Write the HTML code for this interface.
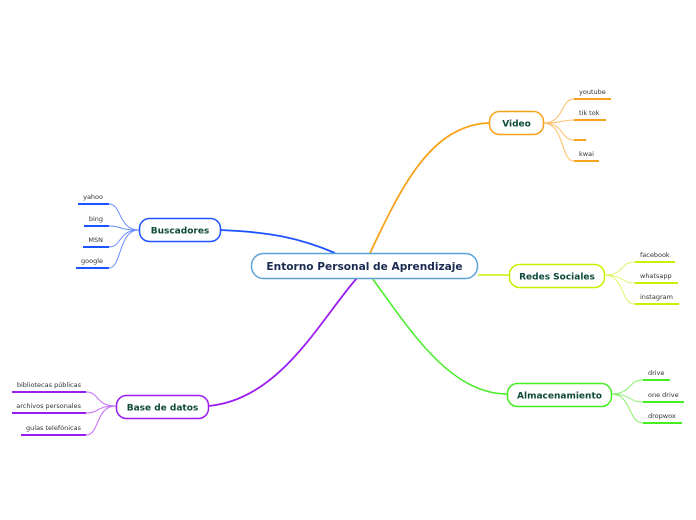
<!DOCTYPE html>
<html><head><meta charset="utf-8"><style>
html,body{margin:0;padding:0;background:#fff;width:696px;height:520px;overflow:hidden}
svg{display:block}
text{font-family:"DejaVu Sans","Liberation Sans",sans-serif}
.n{font-weight:bold;font-size:9px;fill:#0d4a3a}
.l{font-size:6.5px;fill:#333}
</style></head><body>
<svg width="696" height="520" viewBox="0 0 696 520" fill="none">
<path d="M370 253 C400 190,430 125,489 123" stroke="#f7a21b" stroke-width="1.8"/>
<path d="M220 230 C270 232,300 238,335 253" stroke="#1a53ff" stroke-width="1.8"/>
<path d="M208 406 C280 400,320 320,357 278" stroke="#9b1bf0" stroke-width="1.8"/>
<path d="M478 275 C490 275,500 275,509 275" stroke="#c8f000" stroke-width="1.5"/>
<path d="M372 278 C410 330,450 394,507 394" stroke="#44ee22" stroke-width="1.5"/>
<g stroke="#ffbe6a" stroke-width="1">
<path d="M543 123 C565 123,560 99,574 99"/><path d="M543 123 C565 123,560 120,574 120"/>
<path d="M543 123 C565 123,560 140,574 140"/><path d="M543 123 C565 123,560 161,574 161"/>
</g>
<g stroke="#f7a21b" stroke-width="2">
<line x1="574" y1="99" x2="611" y2="99"/><line x1="574" y1="120" x2="606" y2="120"/>
<line x1="574" y1="140" x2="586" y2="140"/><line x1="574" y1="161" x2="599" y2="161"/>
</g>
<g stroke="#dcf66a" stroke-width="1">
<path d="M604 275 C625 275,620 262,635 262"/><path d="M604 275 C625 275,620 283,635 283"/><path d="M604 275 C625 275,620 304,635 304"/>
</g>
<g stroke="#c8f000" stroke-width="2">
<line x1="635" y1="262" x2="675" y2="262"/><line x1="635" y1="283" x2="678" y2="283"/><line x1="635" y1="304" x2="679" y2="304"/>
</g>
<g stroke="#88f06a" stroke-width="1">
<path d="M611 394 C632 394,628 380,643 380"/><path d="M611 394 C632 394,628 402,643 402"/><path d="M611 394 C632 394,628 423,643 423"/>
</g>
<g stroke="#44ee22" stroke-width="2">
<line x1="643" y1="380" x2="670" y2="380"/><line x1="643" y1="402" x2="684" y2="402"/><line x1="643" y1="423" x2="682" y2="423"/>
</g>
<g stroke="#6a8cff" stroke-width="1">
<path d="M139 230 C118 230,122 204,109 204"/><path d="M139 230 C118 230,122 226,109 226"/>
<path d="M139 230 C118 230,122 247,109 247"/><path d="M139 230 C118 230,122 268,109 268"/>
</g>
<g stroke="#1a53ff" stroke-width="2">
<line x1="78" y1="204" x2="109" y2="204"/><line x1="84" y1="226" x2="109" y2="226"/>
<line x1="83" y1="247" x2="109" y2="247"/><line x1="76" y1="268" x2="109" y2="268"/>
</g>
<g stroke="#c56af6" stroke-width="1">
<path d="M116 406 C95 406,100 392,86 392"/><path d="M116 406 C95 406,100 413,86 413"/><path d="M116 406 C95 406,100 435,86 435"/>
</g>
<g stroke="#9b1bf0" stroke-width="2">
<line x1="12" y1="392" x2="86" y2="392"/><line x1="12" y1="413" x2="86" y2="413"/><line x1="21" y1="435" x2="86" y2="435"/>
</g>
<rect x="251.5" y="253.5" width="226" height="25" rx="12" fill="#fff" stroke="#5ba3d9" stroke-width="1.5"/>
<text x="364.5" y="270" text-anchor="middle" style="font-weight:bold;font-size:10.6px;fill:#1a2a50">Entorno Personal de Aprendizaje</text>
<rect x="489.5" y="111.5" width="54" height="23" rx="10" fill="#fff" stroke="#f7a21b" stroke-width="1.5"/>
<text x="516.5" y="126.5" text-anchor="middle" class="n">Video</text>
<rect x="509.5" y="264.5" width="95" height="23" rx="10" fill="#fff" stroke="#c8f000" stroke-width="1.5"/>
<text x="557" y="279.5" text-anchor="middle" class="n">Redes Sociales</text>
<rect x="507.5" y="383.5" width="104" height="23" rx="10" fill="#fff" stroke="#44ee22" stroke-width="1.5"/>
<text x="559.5" y="398.5" text-anchor="middle" class="n">Almacenamiento</text>
<rect x="139.5" y="218.5" width="81" height="23" rx="10" fill="#fff" stroke="#1a53ff" stroke-width="1.5"/>
<text x="180" y="233.5" text-anchor="middle" class="n">Buscadores</text>
<rect x="116.5" y="395.5" width="92" height="23" rx="10" fill="#fff" stroke="#9b1bf0" stroke-width="1.5"/>
<text x="162.5" y="410.5" text-anchor="middle" class="n">Base de datos</text>
<text class="l" x="579" y="94">youtube</text>
<text class="l" x="579" y="115">tik tok</text>
<text class="l" x="579" y="156">kwai</text>
<text class="l" x="640" y="257">facebook</text>
<text class="l" x="640" y="278">whatsapp</text>
<text class="l" x="640" y="299">instagram</text>
<text class="l" x="648" y="375">drive</text>
<text class="l" x="648" y="397">one drive</text>
<text class="l" x="648" y="418">dropwox</text>
<text class="l" x="103" y="199" text-anchor="end">yahoo</text>
<text class="l" x="103" y="221" text-anchor="end">bing</text>
<text class="l" x="103" y="242" text-anchor="end">MSN</text>
<text class="l" x="103" y="263" text-anchor="end">google</text>
<text class="l" x="81" y="387" text-anchor="end">bibliotecas públicas</text>
<text class="l" x="81" y="408" text-anchor="end">archivos personales</text>
<text class="l" x="81" y="430" text-anchor="end">guías telefónicas</text>
</svg>
</body></html>
